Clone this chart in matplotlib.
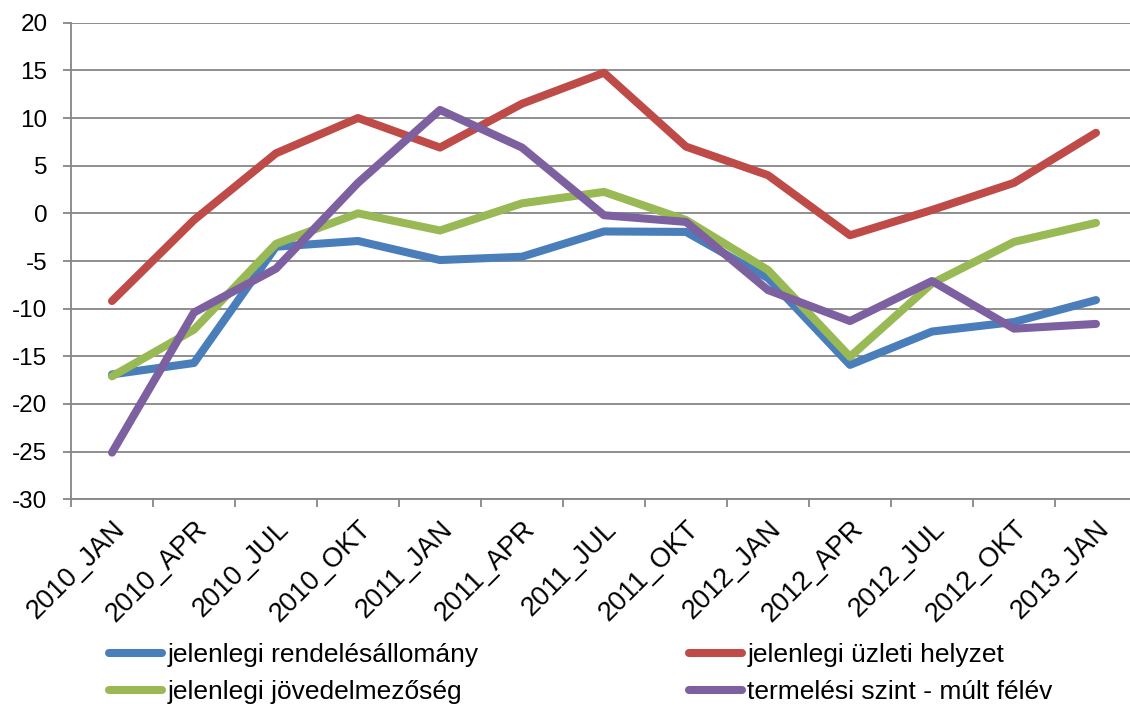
import matplotlib
matplotlib.use("Agg")
import matplotlib.pyplot as plt
from matplotlib.lines import Line2D

plt.rcParams['font.family'] = ['Liberation Sans', 'DejaVu Sans']
plt.rcParams['axes.unicode_minus'] = False

honapok = ['2010_JAN', '2010_APR', '2010_JUL', '2010_OKT', '2011_JAN', '2011_APR', '2011_JUL',
           '2011_OKT', '2012_JAN', '2012_APR', '2012_JUL', '2012_OKT', '2013_JAN']

rendelesallomany = [-16.9, -15.7, -3.5, -2.9, -4.9, -4.55, -1.9, -1.95, -6.8, -15.9, -12.4, -11.4, -9.1]
uzleti_helyzet = [-9.2, -0.7, 6.3, 10.0, 6.9, 11.5, 14.75, 7.0, 4.0, -2.3, 0.35, 3.2, 8.45]
jovedelmezoseg = [-17.1, -12.2, -3.2, 0.0, -1.8, 1.05, 2.25, -0.7, -5.95, -15.05, -7.35, -3.0, -1.0]
termelesi_szint = [-25.1, -10.4, -5.8, 3.2, 10.85, 6.9, -0.2, -0.9, -8.05, -11.3, -7.1, -12.1, -11.6]

sorozatok = [
    ('jelenlegi rendelésállomány', rendelesallomany, '#4A7EBB'),
    ('jelenlegi üzleti helyzet', uzleti_helyzet, '#BE4B48'),
    ('jelenlegi jövedelmezőség', jovedelmezoseg, '#98B954'),
    ('termelési szint - múlt félév', termelesi_szint, '#7D60A0'),
]

fig = plt.figure(figsize=(11.3, 7.07), dpi=100)
ax = fig.add_axes([71 / 1130, 1 - 499.3 / 707, 1066 / 1130, (499.3 - 22.7) / 707])

x = range(len(honapok))
for nev, ertekek, szin in sorozatok:
    ax.plot(x, ertekek, color=szin, lw=5.8, solid_capstyle='round',
            solid_joinstyle='round', label=nev, zorder=3)

szurke = '#868686'
ax.set_ylim(-30, 20)
ax.set_yticks(range(-30, 21, 5))
ax.set_xlim(-0.5, len(honapok) - 0.5)
ax.set_xticks(list(x))
ax.set_xticklabels(honapok, rotation=45, ha='right', va='top', rotation_mode='anchor')
ax.set_xticks([i - 0.5 for i in range(len(honapok) + 1)], minor=True)

ax.grid(axis='y', color=szurke, lw=1.3, zorder=0)
for oldal in ['top', 'right']:
    ax.spines[oldal].set_visible(False)
for oldal in ['left', 'bottom']:
    ax.spines[oldal].set_color(szurke)
    ax.spines[oldal].set_linewidth(1.3)

ax.tick_params(axis='y', colors=szurke, length=6, width=1.3, labelsize=17.5, labelcolor='black', pad=11)
ax.tick_params(axis='x', which='major', length=0, labelsize=19.5, labelcolor='black', pad=12)
ax.tick_params(axis='x', which='minor', length=6, width=1.3, colors=szurke)

kezelok = [Line2D([0], [0], color=s, lw=5.8, solid_capstyle='round') for _, _, s in sorozatok]
nevek = [n for n, _, _ in sorozatok]

beall = dict(loc='upper left', frameon=False, fontsize=19, handlelength=2.0,
             handletextpad=0.2, labelspacing=0.5, borderpad=0)
fig.legend([kezelok[0], kezelok[2]], [nevek[0], nevek[2]],
           bbox_to_anchor=(96 / 1130, 1 - 630 / 707), **beall)
fig.legend([kezelok[1], kezelok[3]], [nevek[1], nevek[3]],
           bbox_to_anchor=(676 / 1130, 1 - 630 / 707), **beall)

fig.savefig('out.png', dpi=100)
